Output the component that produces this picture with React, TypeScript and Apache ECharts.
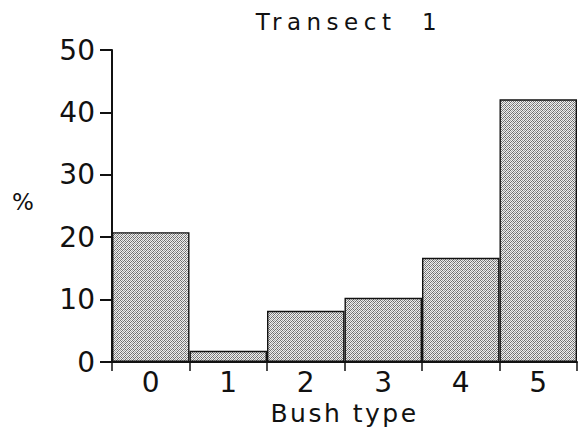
import React, { useEffect, useRef } from "react";
import * as echarts from "echarts";

const bushTypes = ["0", "1", "2", "3", "4", "5"];
const percentages = [20.8, 1.8, 8.2, 10.3, 16.7, 42.1];
const yTicks = { min: 0, max: 50, interval: 10 };

// Small tiled stipple used as the bar fill
function makeStipple(): HTMLCanvasElement {
  const c = document.createElement("canvas");
  c.width = 4;
  c.height = 4;
  const ctx = c.getContext("2d")!;
  ctx.fillStyle = "#efefef";
  ctx.fillRect(0, 0, 4, 4);
  const dots = [
    [0, 0], [2, 0], [1, 1], [3, 1], [0, 2], [2, 2], [1, 3], [3, 3],
  ];
  dots.forEach(([x, y], i) => {
    ctx.fillStyle = i % 3 === 1 ? "#a0a0a0" : "#6e6e6e";
    ctx.fillRect(x, y, 1, 1);
  });
  return c;
}

// Wide tracking for the title and axis name
const tracking: Record<string, number> = { "Transect  1": 5.5, "Bush type": 2.5 };

export default function App() {
  const ref = useRef<HTMLDivElement>(null);
  useEffect(() => {
    if (!ref.current) return;
    const chart = echarts.init(ref.current, null, { renderer: "svg" });
    const font = "DejaVu Sans";
    chart.setOption({
      animation: false,
      backgroundColor: "#ffffff",
      grid: { left: 112, right: 4, top: 50, bottom: 71 },
      title: {
        text: "Transect  1",
        left: 344,
        textAlign: "center",
        top: 5,
        textStyle: { fontFamily: font, fontSize: 23, fontWeight: "normal", color: "#111" },
      },
      graphic: [
        {
          type: "text",
          left: 12,
          top: 190,
          style: { text: "%", fontFamily: font, fontSize: 23, fill: "#111" },
        },
      ],
      xAxis: {
        type: "category",
        data: bushTypes,
        name: "Bush type",
        nameLocation: "middle",
        nameGap: 36,
        nameTextStyle: { fontFamily: font, fontSize: 25, color: "#111" },
        axisLine: { lineStyle: { color: "#111", width: 2 } },
        axisTick: { show: true, length: 9, lineStyle: { color: "#111", width: 1.5 } },
        axisLabel: { fontFamily: font, fontSize: 28, color: "#111", margin: 6 },
      },
      yAxis: {
        type: "value",
        min: yTicks.min,
        max: yTicks.max,
        interval: yTicks.interval,
        splitLine: { show: false },
        axisLine: { show: true, lineStyle: { color: "#111", width: 2 } },
        axisTick: { show: true, length: 12, lineStyle: { color: "#111", width: 2 } },
        axisLabel: { fontFamily: font, fontSize: 28, color: "#111", margin: 17 },
      },
      series: [
        {
          type: "bar",
          data: percentages,
          barCategoryGap: "0%",
          itemStyle: {
            color: {
              image: makeStipple(),
              repeat: "repeat",
              imageWidth: 4,
              imageHeight: 4,
            } as any,
            borderColor: "#111",
            borderWidth: 1.4,
          },
        },
      ],
    });
    ref.current.querySelectorAll("text").forEach((t) => {
      const s = tracking[t.textContent || ""];
      if (s) t.setAttribute("letter-spacing", String(s));
    });
    return () => chart.dispose();
  }, []);
  return (
    <div
      ref={ref}
      style={{ position: "absolute", left: 0, top: 0, width: 581, height: 433 }}
    />
  );
}
